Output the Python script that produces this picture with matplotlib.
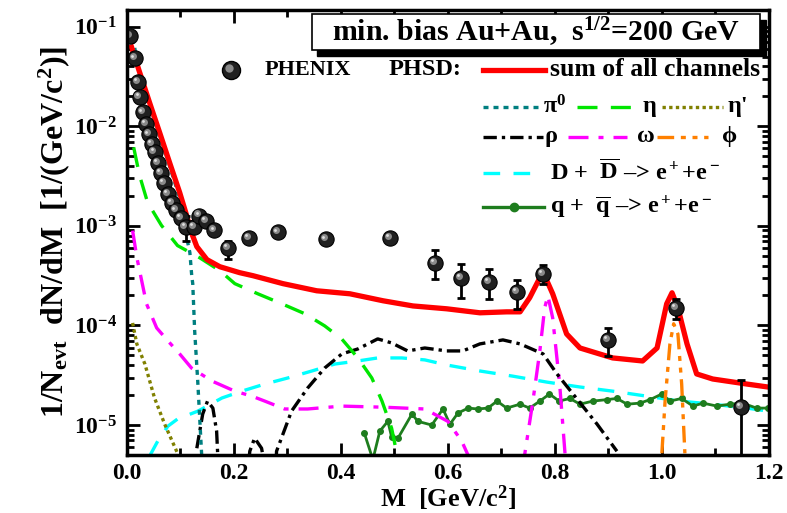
import numpy as np
import matplotlib
matplotlib.use('Agg')
import matplotlib.pyplot as plt
import matplotlib.transforms as mtransforms
from matplotlib.patches import Rectangle

plt.rcParams['font.family'] = 'Liberation Serif'
plt.rcParams['font.weight'] = 'bold'
plt.rcParams['axes.labelweight'] = 'bold'
plt.rcParams['mathtext.fontset'] = 'custom'
plt.rcParams['mathtext.rm'] = 'Liberation Serif:bold'
plt.rcParams['mathtext.it'] = 'Liberation Serif:bold'
plt.rcParams['mathtext.bf'] = 'Liberation Serif:bold'
plt.rcParams['mathtext.default'] = 'rm'

# PHENIX data (min. bias Au+Au)
m_data = [0.006, 0.015, 0.021, 0.024, 0.030, 0.036, 0.041, 0.047, 0.052, 0.058,
          0.064, 0.069, 0.077, 0.084, 0.092, 0.101, 0.110, 0.125, 0.136, 0.148,
          0.164, 0.189, 0.228, 0.282, 0.372, 0.492, 0.576, 0.624, 0.677, 0.729,
          0.778, 0.899, 1.026, 1.148]
y_data = [0.080, 0.048, 0.0277, 0.0196, 0.0138, 0.0105, 0.0083, 0.0067, 0.0055, 0.0043,
          0.0034, 0.0027, 0.0021, 0.0017, 0.00143, 0.00121, 0.00098, 0.00098, 0.00127, 0.00113,
          0.00090, 6.0e-4, 7.6e-4, 8.6e-4, 7.3e-4, 7.6e-4, 4.27e-4, 3.01e-4, 2.75e-4, 2.18e-4,
          3.31e-4, 7.16e-5, 1.50e-4, 1.51e-5]
y_low = [0.080, 0.048, 0.0277, 0.0196, 0.0138, 0.0105, 0.0083, 0.0067, 0.0055, 0.0043,
         0.0034, 0.0027, 0.0021, 0.0017, 0.00143, 0.00121, 7.1e-4, 0.00098, 0.00127, 0.00113,
         0.00090, 4.7e-4, 7.6e-4, 8.6e-4, 7.3e-4, 7.6e-4, 2.94e-4, 1.90e-4, 1.85e-4, 1.47e-4,
         2.62e-4, 4.94e-5, 1.16e-4, 1e-7]
y_high = [0.080, 0.048, 0.0277, 0.0196, 0.0138, 0.0105, 0.0083, 0.0067, 0.0055, 0.0043,
          0.0034, 0.0027, 0.0021, 0.0017, 0.00143, 0.00121, 0.00125, 0.00098, 0.00127, 0.00113,
          0.00090, 7.1e-4, 7.6e-4, 8.6e-4, 7.3e-4, 7.6e-4, 5.77e-4, 4.17e-4, 3.72e-4, 2.88e-4,
          4.07e-4, 9.46e-5, 1.85e-4, 2.83e-5]

# PHSD: sum of all channels
m_sum = [0.009, 0.024, 0.043, 0.062, 0.080, 0.099, 0.112, 0.121, 0.131, 0.150,
         0.174, 0.211, 0.236, 0.292, 0.355, 0.417, 0.479, 0.535, 0.598, 0.660,
         0.710, 0.735, 0.753, 0.772, 0.781, 0.796, 0.822, 0.847, 0.908, 0.964,
         0.991, 1.009, 1.019, 1.030, 1.047, 1.065, 1.095, 1.159, 1.198]
y_sum = [0.0625, 0.035, 0.0171, 0.0085, 0.00434, 0.00216, 0.00127, 8.57e-4, 6.19e-4, 4.58e-4,
         3.89e-4, 3.39e-4, 3.16e-4, 2.63e-4, 2.23e-4, 2.08e-4, 1.77e-4, 1.57e-4, 1.47e-4, 1.34e-4,
         1.37e-4, 1.37e-4, 1.90e-4, 3.01e-4, 3.16e-4, 2.08e-4, 8.22e-5, 5.94e-5, 4.72e-5, 4.40e-5,
         5.94e-5, 1.65e-4, 2.13e-4, 1.50e-4, 6.53e-5, 3.26e-5, 2.90e-5, 2.58e-5, 2.41e-5]

# pi0
m_pi0 = [0.004, 0.012, 0.024, 0.043, 0.062, 0.080, 0.099, 0.108, 0.114, 0.118, 0.1215, 0.1234, 0.127, 0.1327, 0.140]
y_pi0 = [0.095, 0.075, 0.033, 0.016, 0.008, 0.004, 0.0019, 0.0012, 6.8e-4, 5.4e-4, 3.16e-4, 2.63e-4, 8.8e-5, 2.77e-5, 5.1e-6]

# eta
m_eta = [0.013, 0.024, 0.039, 0.065, 0.095, 0.136, 0.174, 0.202, 0.245, 0.290,
         0.333, 0.370, 0.402, 0.432, 0.458, 0.477, 0.495, 0.505]
y_eta = [6.15e-3, 3.21e-3, 1.72e-3, 1.01e-3, 6.34e-4, 4.80e-4, 3.55e-4, 2.63e-4, 2.08e-4, 1.65e-4,
         1.31e-4, 9.9e-5, 7.3e-5, 4.72e-5, 2.97e-5, 1.74e-5, 9.3e-6, 5.1e-6]

# eta'
m_etap = [0.011, 0.019, 0.034, 0.052, 0.071, 0.095]
y_etap = [1.06e-4, 6.5e-5, 4.1e-5, 1.87e-5, 1.02e-5, 5.2e-6]

# rho
m_rho = [0.131, 0.142, 0.151, 0.161, 0.168, 0.170, 0.200, 0.230, 0.239, 0.252, 0.254, 0.267,
         0.280, 0.308, 0.338, 0.370, 0.402, 0.432, 0.469, 0.495, 0.525, 0.557, 0.598, 0.628,
         0.660, 0.703, 0.735, 0.778, 0.804, 0.834, 0.879, 0.916]
y_rho = [5.85e-6, 1.29e-5, 1.74e-5, 1.48e-5, 8.7e-6, 5.1e-6, 1e-7, 5.46e-6, 7.4e-6, 5.85e-6, 5.1e-6, 1e-7,
         5.46e-6, 1.38e-5, 2.35e-5, 3.74e-5, 5.18e-5, 5.81e-5, 7.33e-5, 6.68e-5, 5.55e-5, 5.94e-5, 5.55e-5, 5.55e-5,
         6.53e-5, 7.16e-5, 6.53e-5, 5.18e-5, 3.26e-5, 2.05e-5, 1.02e-5, 5.46e-6]

# omega
m_omega = [0.011, 0.019, 0.028, 0.037, 0.056, 0.077, 0.099, 0.121, 0.159, 0.202,
           0.234, 0.258, 0.295, 0.338, 0.402, 0.482, 0.557, 0.600, 0.626, 0.637,
           0.690, 0.744, 0.759, 0.772, 0.781, 0.787, 0.796, 0.809, 0.819]
y_omega = [8.97e-4, 4.80e-4, 2.81e-4, 1.65e-4, 9.45e-5, 7.0e-5, 5.18e-5, 3.74e-5, 2.77e-5, 2.19e-5,
           1.95e-5, 1.74e-5, 1.45e-5, 1.45e-5, 1.55e-5, 1.51e-5, 1.45e-5, 1.09e-5, 6.9e-6, 5.1e-6,
           1e-7, 5.2e-6, 1.74e-5, 5.55e-5, 1.50e-4, 1.99e-4, 1.19e-4, 2.58e-5, 5.2e-6]

# phi
m_phi = [1.000, 1.006, 1.015, 1.022, 1.030, 1.037, 1.043]
y_phi = [5.2e-6, 1.74e-5, 6.5e-5, 1.04e-4, 8.2e-5, 2.58e-5, 5.2e-6]

# D + Dbar
m_dd = [0.043, 0.058, 0.077, 0.095, 0.133, 0.178, 0.215, 0.258, 0.301, 0.346,
        0.389, 0.432, 0.469, 0.514, 0.557, 0.598, 0.660, 0.721, 0.785, 0.847,
        0.908, 0.972, 1.034, 1.095, 1.159, 1.198]
y_dd = [4.9e-6, 6.9e-6, 9.75e-6, 1.15e-5, 1.38e-5, 1.87e-5, 2.19e-5, 2.58e-5, 2.97e-5, 3.49e-5,
        4.10e-5, 4.40e-5, 4.72e-5, 4.72e-5, 4.51e-5, 4.01e-5, 3.49e-5, 3.10e-5, 2.70e-5, 2.41e-5,
        2.19e-5, 1.95e-5, 1.74e-5, 1.62e-5, 1.48e-5, 1.38e-5]

# q + qbar
m_qq = [0.444, 0.460, 0.473, 0.488, 0.495, 0.507, 0.533, 0.544, 0.570, 0.591,
        0.604, 0.619, 0.638, 0.656, 0.675, 0.692, 0.710, 0.735, 0.753, 0.772,
        0.790, 0.808, 0.828, 0.847, 0.871, 0.897, 0.916, 0.935, 0.959, 0.978,
        1.000, 1.015, 1.037, 1.058, 1.077, 1.103, 1.127, 1.151, 1.177, 1.198]
y_qq = [8.3e-6, 4.5e-6, 8.7e-6, 1.09e-5, 7.6e-6, 7.4e-6, 1.29e-5, 1.09e-5, 1.0e-5, 1.45e-5,
        1.02e-5, 1.32e-5, 1.48e-5, 1.45e-5, 1.48e-5, 1.74e-5, 1.48e-5, 1.62e-5, 1.48e-5, 1.74e-5,
        2.05e-5, 1.74e-5, 1.85e-5, 1.62e-5, 1.74e-5, 1.80e-5, 1.85e-5, 1.62e-5, 1.66e-5, 1.80e-5,
        2.05e-5, 1.74e-5, 1.85e-5, 1.55e-5, 1.66e-5, 1.55e-5, 1.62e-5, 1.66e-5, 1.48e-5, 1.48e-5]

fig = plt.figure(figsize=(7.87, 5.13), dpi=100)
ax = fig.add_axes([0.161, 0.113, 0.816, 0.868])

ax.plot(m_dd, y_dd, color='#00ffff', lw=2.4, dashes=(5, 4))
ax.plot(m_qq, y_qq, color='#1e7d1e', lw=2.0, marker='o', ms=4)
ax.plot(m_etap, y_etap, color='#808000', lw=2.4, dashes=(1, 1))
ax.plot(m_omega, y_omega, color='#ff00ff', lw=2.4, dashes=(6, 3, 1.5, 3))
ax.plot(m_rho, y_rho, color='black', lw=2.4, dashes=(4, 1.5, 1, 1.5))
ax.plot(m_phi, y_phi, color='#ff8000', lw=2.4, dashes=(5, 2, 1.5, 2, 1.5, 2))
ax.plot(m_eta, y_eta, color='#00e600', lw=2.4, dashes=(6, 4))
ax.plot(m_pi0, y_pi0, color='#007f80', lw=2.4, dashes=(1.5, 1.5))
ax.plot(m_sum, y_sum, color='#ff0000', lw=3.8)

m = np.array(m_data)
y = np.array(y_data)
yerr = [y - np.array(y_low), np.array(y_high) - y]
ax.errorbar(m, y, yerr=yerr, fmt='none', ecolor='black', elinewidth=2, capsize=3, capthick=2)
ax.plot(m, y, 'o', ms=11, mfc='#202020', mec='black', mew=0.8)
hl = mtransforms.offset_copy(ax.transData, fig=fig, x=-1.5, y=1.5, units='points')
ax.plot(m, y, 'o', ms=5, mfc='#8a8a8a', mec='none', transform=hl)
hl2 = mtransforms.offset_copy(ax.transData, fig=fig, x=-2, y=2, units='points')
ax.plot(m, y, 'o', ms=2, mfc='#e0e0e0', mec='none', transform=hl2)

ax.set_yscale('log')
ax.set_xlim(0, 1.2)
ax.set_ylim(5e-6, 0.148)
ax.set_xticks([0.0, 0.2, 0.4, 0.6, 0.8, 1.0, 1.2])
ax.set_xticks(np.arange(0.1, 1.2, 0.2), minor=True)
ax.xaxis.set_major_formatter(matplotlib.ticker.FormatStrFormatter('%.1f'))
ax.tick_params(which='both', direction='in', top=True, right=True, width=2, labelsize=17, pad=7)
ax.tick_params(axis='x', pad=6)
ax.tick_params(which='major', length=9)
ax.tick_params(which='minor', length=5)
for s in ax.spines.values():
    s.set_linewidth(2.5)

ax.set_xlabel(r'M  [GeV/c$^2$]', fontsize=19)
ax.xaxis.set_label_coords(0.5, -0.064)
ax.set_ylabel(r'1/N$_{\mathrm{evt}}$  dN/dM  [1/(GeV/c$^2$)]', fontsize=23, labelpad=1)

# title box with shadow
T = ax.transAxes
ax.add_patch(Rectangle((0.297, 0.897), 0.698, 0.081, transform=T, facecolor='black',
                       edgecolor='black', zorder=9, clip_on=False))
ax.add_patch(Rectangle((0.288, 0.910), 0.698, 0.081, transform=T, facecolor='white',
                       edgecolor='black', lw=1.2, zorder=10, clip_on=False))
ax.text(0.637, 0.950, r'min. bias Au+Au,  s$^{1/2}$=200 GeV', transform=T, fontsize=21.5,
        ha='center', va='center', zorder=11)

# legend
fs = 17.5
ax.plot([0.162], [0.865], 'o', ms=13, mfc='#202020', mec='black', transform=T)
ax.plot([0.162], [0.865], 'o', ms=6, mfc='#8a8a8a', mec='none',
        transform=mtransforms.offset_copy(T, fig=fig, x=-1.5, y=1.5, units='points'))
ax.text(0.215, 0.865, 'PHENIX', transform=T, fontsize=16, va='center')
ax.text(0.407, 0.865, 'PHSD:', transform=T, fontsize=fs, va='center')
ax.plot([0.555, 0.651], [0.865, 0.865], color='#ff0000', lw=3.8, transform=T)
ax.text(0.659, 0.865, 'sum of all channels', transform=T, fontsize=18.5, va='center')

r2 = 0.782
ax.plot([0.555, 0.640], [r2, r2], color='#007f80', lw=2.4, dashes=(1.5, 1.5), transform=T)
ax.text(0.648, r2, r'π$^0$', transform=T, fontsize=fs, va='center')
ax.plot([0.701, 0.796], [r2, r2], color='#00e600', lw=2.4, dashes=(6, 4), transform=T)
ax.text(0.804, r2, 'η', transform=T, fontsize=fs, va='center')
ax.plot([0.833, 0.928], [r2, r2], color='#808000', lw=2.4, dashes=(1, 1), transform=T)
ax.text(0.936, r2, "η'", transform=T, fontsize=fs, va='center')

r3 = 0.715
ax.plot([0.555, 0.648], [r3, r3], color='black', lw=2.4, dashes=(4, 1.5, 1, 1.5), transform=T)
ax.text(0.651, r3, 'ρ', transform=T, fontsize=fs, va='center')
ax.plot([0.687, 0.779], [r3, r3], color='#ff00ff', lw=2.4, dashes=(6, 3, 1.5, 3), transform=T)
ax.text(0.794, r3, 'ω', transform=T, fontsize=fs, va='center')
ax.plot([0.825, 0.905], [r3, r3], color='#ff8000', lw=2.4, dashes=(5, 2, 1.5, 2, 1.5, 2), transform=T)
ax.text(0.927, r3, 'ϕ', transform=T, fontsize=fs, va='center')

r4 = 0.634
ax.plot([0.555, 0.648], [r4, r4], color='#00ffff', lw=2.4, dashes=(5, 4), transform=T)
ax.text(0.659, r4, r'D +  $\overline{\mathrm{D}}$ –> e$^+$+e$^-$', transform=T, fontsize=fs, va='center')

r5 = 0.557
ax.plot([0.555, 0.650], [r5, r5], color='#1e7d1e', lw=2.4, transform=T)
ax.plot([0.6025], [r5], 'o', ms=6, color='#1e7d1e', transform=T)
ax.text(0.659, r5, r'q +  $\overline{\mathrm{q}}$ –> e$^+$+e$^-$', transform=T, fontsize=fs, va='center')

plt.savefig('out.png', dpi=100)
